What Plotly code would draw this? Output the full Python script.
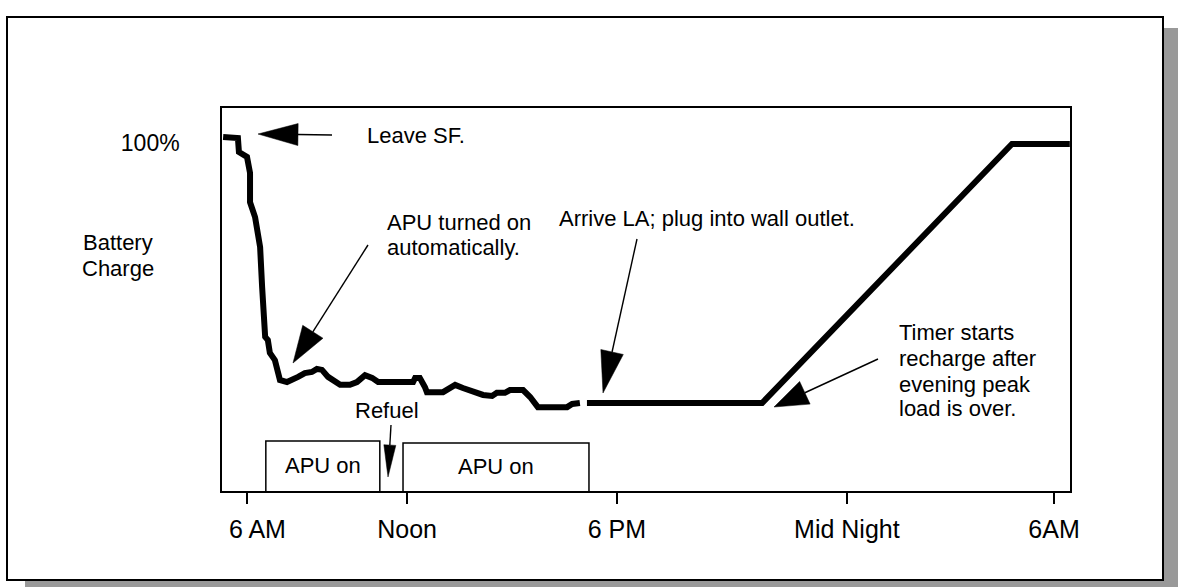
import math
import plotly.graph_objects as go

# ---------------- data (x: timeline in hours, linear schematic; y: battery charge %) ----------------
trip_hours = [5.29, 5.73, 5.76, 6.00, 6.09, 6.09, 6.24, 6.39, 6.45, 6.48, 6.54, 6.62, 6.68, 6.83,
              6.98, 7.19, 7.34, 7.52, 7.72, 7.93, 8.08, 8.23, 8.41, 8.77, 9.06, 9.27, 9.51, 9.72,
              9.90, 10.94, 11.00, 11.14, 11.29, 11.35, 11.83, 12.19, 12.42, 12.72, 13.02, 13.29,
              13.43, 13.67, 13.82, 14.21, 14.42, 14.65, 15.52, 15.67, 15.90]
trip_charge = [101.7, 101.4, 97.4, 96.0, 91.4, 83.0, 78.7, 70.1, 58.6, 51.1, 44.3, 43.4, 39.7, 37.6,
               31.9, 31.3, 31.9, 32.8, 33.9, 34.2, 35.1, 34.8, 32.8, 30.5, 30.5, 31.3, 33.3, 32.5,
               31.3, 31.3, 32.5, 32.5, 29.9, 28.4, 28.4, 30.5, 29.6, 28.4, 27.6, 27.3,
               28.2, 28.2, 29.0, 29.0, 27.0, 24.1, 24.1, 25.0, 25.3]

plug_hours = [16.11, 21.32, 28.75, 30.47]
plug_charge = [25.3, 25.3, 99.7, 99.7]

apu_start = [6.56, 10.64]
apu_end = [9.95, 16.17]
apu_top = [14.4, 13.8]
apu_label = ["APU on", "APU on"]

tick_hours = [6.0, 10.76, 17.0, 23.84, 30.0]
tick_labels = ["\u00a0\u00a0\u00a06 AM", "Noon", "6 PM", "Mid Night", "6AM"]

# ---------------- layout helpers ----------------
W, H = 1178, 587
BOX_L, BOX_R, BOX_T, BOX_B = 222, 1070, 108, 491
FONT = "Liberation Sans, Arial, sans-serif"
TXT = 22


def px(x, y):
    """figure pixel -> paper coords (paper spans the plot box)"""
    return (x - BOX_L) / (BOX_R - BOX_L), (BOX_B - y) / (BOX_B - BOX_T)


fig = go.Figure()

fig.add_trace(go.Scatter(x=trip_hours, y=trip_charge, mode="lines",
                         line=dict(color="black", width=6), hoverinfo="skip"))
fig.add_trace(go.Scatter(x=plug_hours, y=plug_charge, mode="lines",
                         line=dict(color="black", width=6), hoverinfo="skip"))

for s, e, t, lab in zip(apu_start, apu_end, apu_top, apu_label):
    fig.add_trace(go.Scatter(x=[s, s, e, e], y=[0, t, t, 0], mode="lines",
                             line=dict(color="black", width=1.5), hoverinfo="skip"))
    fig.add_annotation(x=(s + e) / 2, y=t / 2, xref="x", yref="y", text=lab,
                       showarrow=False, font=dict(family=FONT, size=TXT, color="black"))

shapes = []
# shadow and frame
x0, y0 = px(25, 28)
x1, y1 = px(1181, 600)
shapes.append(dict(type="rect", xref="paper", yref="paper", x0=x0, y0=y0, x1=x1, y1=y1,
                   fillcolor="#999999", line=dict(width=0), layer="below"))
x0, y0 = px(7, 17)
x1, y1 = px(1163, 580)
shapes.append(dict(type="rect", xref="paper", yref="paper", x0=x0, y0=y0, x1=x1, y1=y1,
                   fillcolor="white", line=dict(color="black", width=2), layer="below"))


def arrow(tail, tip, head_len, head_w, tail_w=1.4):
    dx, dy = tip[0] - tail[0], tip[1] - tail[1]
    d = math.hypot(dx, dy)
    ux, uy = dx / d, dy / d
    bx, by = tip[0] - ux * head_len, tip[1] - uy * head_len
    nx, ny = -uy, ux
    c1 = (bx + nx * head_w / 2, by + ny * head_w / 2)
    c2 = (bx - nx * head_w / 2, by - ny * head_w / 2)
    a, b = px(*tail)
    c, e = px(bx, by)
    shapes.append(dict(type="line", xref="paper", yref="paper", x0=a, y0=b, x1=c, y1=e,
                       line=dict(color="black", width=tail_w)))
    pts = [px(*tip), px(*c1), px(*c2)]
    path = "M {} {} L {} {} L {} {} Z".format(pts[0][0], pts[0][1], pts[1][0], pts[1][1],
                                              pts[2][0], pts[2][1])
    shapes.append(dict(type="path", xref="paper", yref="paper", path=path,
                       fillcolor="black", line=dict(color="black", width=0.5)))


arrow((332, 135), (258, 134), 40, 22)
arrow((368, 245), (293, 363), 37, 24)
arrow((391, 425), (388, 477), 32, 12)
arrow((637, 239), (603, 393), 42, 23)
arrow((878, 359), (774, 407), 34, 25)

fig.update_layout(shapes=shapes)


def text(x, y, s, anchor="left", size=TXT):
    ax, ay = px(x, y)
    fig.add_annotation(x=ax, y=ay, xref="paper", yref="paper", text=s, showarrow=False,
                       xanchor=anchor, yanchor="middle",
                       font=dict(family=FONT, size=size, color="black"))


text(365, 135, "Leave SF.")
text(385, 222, "APU turned on")
text(385, 247, "automatically.")
text(557, 218, "Arrive LA; plug into wall outlet.")
text(387, 410, "Refuel", anchor="center")
text(897, 332, "Timer starts")
text(897, 358, "recharge after")
text(897, 384, "evening peak")
text(897, 408, "load is over.")
text(118, 242, "Battery", anchor="center")
text(118, 268, "Charge", anchor="center")

fig.update_layout(
    width=W, height=H, autosize=False,
    margin=dict(l=BOX_L, r=W - BOX_R, t=BOX_T, b=H - BOX_B, pad=0),
    paper_bgcolor="white", plot_bgcolor="rgba(0,0,0,0)",
    showlegend=False,
    font=dict(family=FONT, color="black"),
    xaxis=dict(range=[6 - 25 / 33.625, 30 + 16 / 33.625], showgrid=False, zeroline=False,
               showline=True, mirror=True, linecolor="black", linewidth=1.5,
               tickmode="array", tickvals=tick_hours, ticktext=tick_labels,
               ticks="outside", ticklen=11, tickwidth=1.5, tickcolor="black",
               tickfont=dict(family=FONT, size=25, color="black"), ticklabelstandoff=4),
    yaxis=dict(range=[0, 383 / 3.48], showgrid=False, zeroline=False,
               showline=True, mirror=True, linecolor="black", linewidth=1.5,
               tickmode="array", tickvals=[100], ticktext=["100%"], ticks="",
               tickfont=dict(family=FONT, size=23, color="black"), ticklabelstandoff=36),
)

fig.write_html("out.html", config={"displayModeBar": False},
               post_script="document.body.style.margin='0';document.body.style.overflow='hidden';")
